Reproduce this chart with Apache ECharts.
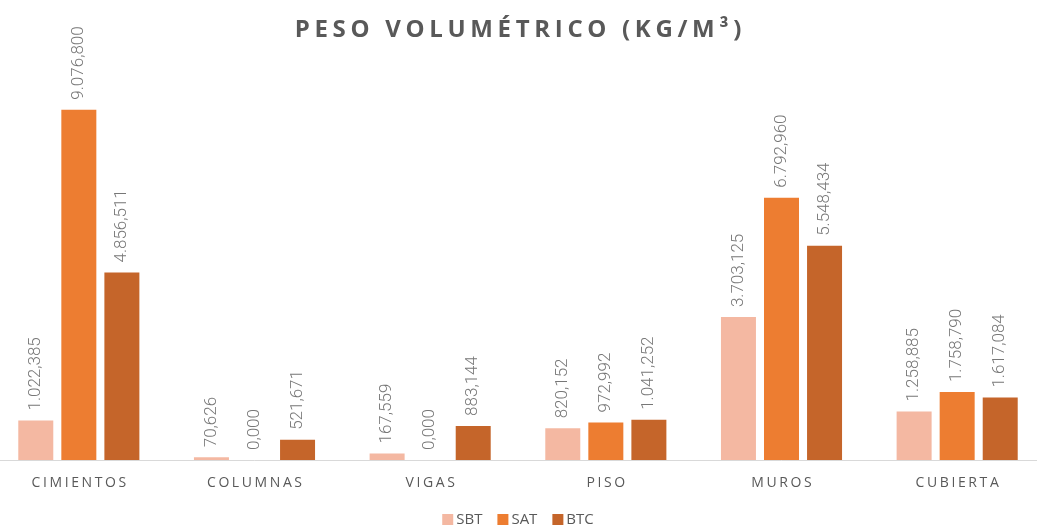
<!DOCTYPE html>
<html>
<head>
    <meta charset="utf-8">
    <title>Peso volumétrico</title>
    <script src="https://cdn.jsdelivr.net/npm/echarts@6/dist/echarts.min.js"></script>
    <style>
        html, body { margin: 0; padding: 0; background: #fff; overflow: hidden; }
        #chart { width: 1054px; height: 526px; margin-left: -9px; }
    </style>
</head>
<body>
<div id="chart"></div>
<script type="text/javascript">
    var categories = ['CIMIENTOS', 'COLUMNAS', 'VIGAS', 'PISO', 'MUROS', 'CUBIERTA'];
    var sbtValues = [1022.385, 70.626, 167.559, 820.152, 3703.125, 1258.885];
    var satValues = [9076.800, 0.000, 0.000, 972.992, 6792.960, 1758.790];
    var btcValues = [4856.511, 521.671, 883.144, 1041.252, 5548.434, 1617.084];
    var seriesNames = ['SBT', 'SAT', 'BTC'];
    var seriesColors = ['#F4B8A2', '#ED7D31', '#C5652A'];

    // formato con punto de miles y coma decimal
    function fmt(v) {
        var parts = v.toFixed(3).split('.');
        var ent = parts[0].replace(/\B(?=(\d{3})+(?!\d))/g, '.');
        return ent + ',' + parts[1];
    }
    // espaciado entre letras con un espacio pequeño de texto rico
    function spaced(s) {
        return s.split('').join('{g| }');
    }

    var labelStyle = {
        show: true,
        position: 'top',
        rotate: 90,
        align: 'left',
        verticalAlign: 'middle',
        distance: 10,
        fontFamily: 'Roboto, sans-serif',
        fontWeight: 300,
        fontSize: 17,
        color: '#777777',
        formatter: function (p) { return fmt(p.value); }
    };

    var seriesData = [sbtValues, satValues, btcValues];
    var series = [];
    for (var i = 0; i < seriesNames.length; i++) {
        series.push({
            name: seriesNames[i],
            type: 'bar',
            data: seriesData[i],
            barWidth: 35,
            barGap: '23%',
            itemStyle: { color: seriesColors[i] },
            label: labelStyle
        });
    }

    var myChart = echarts.init(document.getElementById('chart'));
    var option = {
        animation: false,
        title: {
            text: spaced('PESO VOLUMÉTRICO (KG/M³)'),
            left: 'center',
            top: 13,
            textStyle: {
                fontFamily: '"Open Sans", sans-serif',
                fontWeight: 'bold',
                fontSize: 24,
                color: '#595959',
                rich: {
                    g: { fontFamily: '"Open Sans", sans-serif', fontWeight: 'bold', fontSize: 18 }
                }
            }
        },
        legend: {
            data: seriesNames,
            bottom: -6,
            left: 'center',
            icon: 'rect',
            itemWidth: 11,
            itemHeight: 11,
            itemGap: 15,
            textStyle: {
                fontFamily: '"Open Sans", sans-serif',
                fontSize: 15,
                color: '#595959',
                padding: [0, 0, 0, -2]
            }
        },
        grid: {
            left: 0,
            right: 0,
            top: 74,
            bottom: 66,
            containLabel: false
        },
        xAxis: {
            type: 'category',
            data: categories,
            axisLine: { lineStyle: { color: '#d9d9d9', width: 1 } },
            axisTick: { show: false },
            axisLabel: {
                interval: 0,
                margin: 16,
                fontFamily: '"Open Sans", sans-serif',
                fontSize: 14,
                color: '#595959',
                formatter: function (v) { return spaced(v); },
                rich: {
                    g: { fontFamily: '"Open Sans", sans-serif', fontSize: 10 }
                }
            }
        },
        yAxis: {
            type: 'value',
            min: 0,
            max: 10000,
            show: false,
            splitLine: { show: false }
        },
        series: series
    };
    myChart.setOption(option);
</script>
</body>
</html>
